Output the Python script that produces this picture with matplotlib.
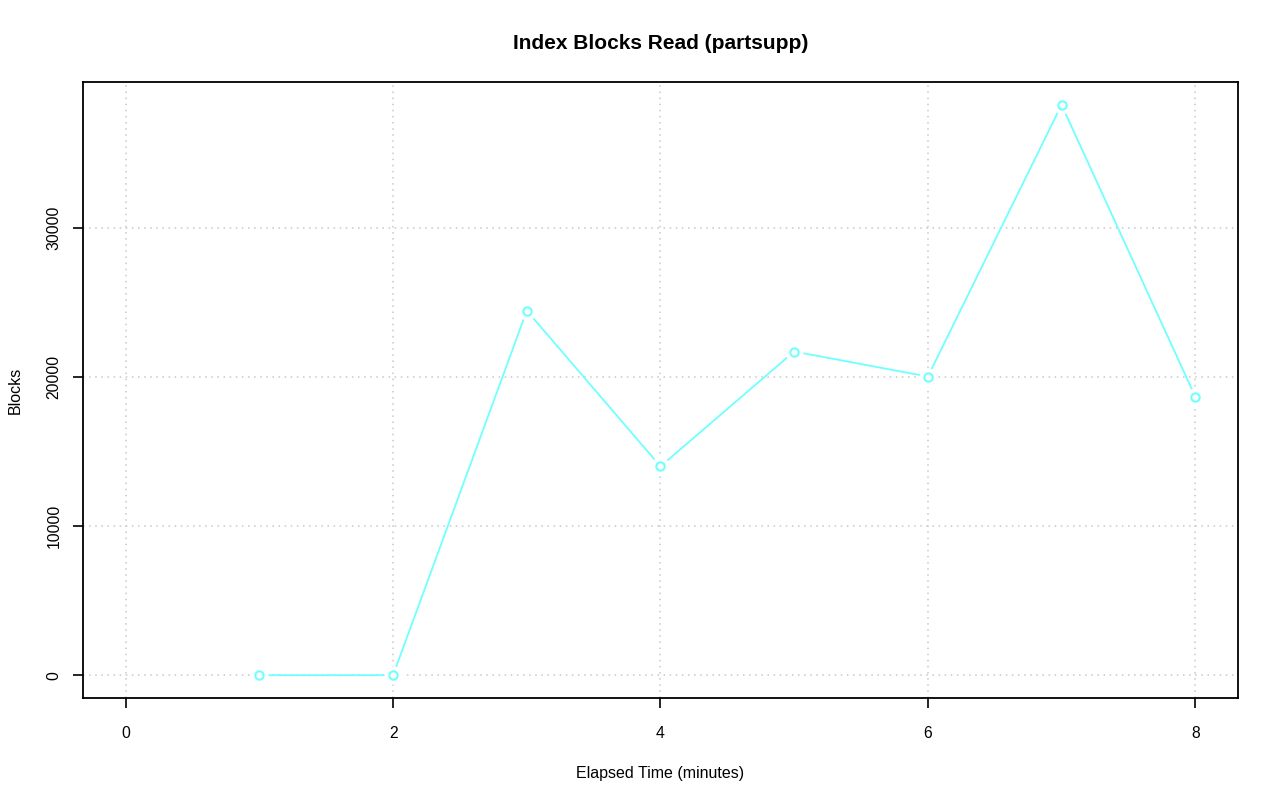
import matplotlib
matplotlib.use("Agg")
import matplotlib.pyplot as plt

plt.rcParams['font.family'] = ['Liberation Sans', 'DejaVu Sans']

minutes = [1, 2, 3, 4, 5, 6, 7, 8]
blocks = [0, 0, 24440, 14000, 21700, 20020, 38240, 18680]

x_ticks = [0, 2, 4, 6, 8]
y_ticks = [0, 10000, 20000, 30000]

fig = plt.figure(figsize=(12.8, 8.01), dpi=100)
ax = fig.add_axes([0.0648, 0.1286, 0.9024, 0.769])

line_col = '#70ffff'
ax.plot(minutes, blocks, color=line_col, lw=1.3, zorder=3)
# white halo so the line stops short of each point (like R type="b")
ax.plot(minutes, blocks, 'o', ms=13, mfc='white', mec='none', zorder=4)
ax.plot(minutes, blocks, 'o', ms=6, mfc='white', mec=line_col, mew=1.5, zorder=5)

ax.set_xlim(-0.32, 8.32)
ax.set_ylim(-1530, 39770)
ax.set_xticks(x_ticks)
ax.set_yticks(y_ticks)
ax.set_yticklabels([str(v) for v in y_ticks], rotation=90, va='center')
ax.grid(True, color='#c8c8c8', linestyle=(0, (1, 3)), lw=1.1)
ax.set_axisbelow(True)

for s in ax.spines.values():
    s.set_linewidth(1.3)
ax.tick_params(direction='out', length=7.5, width=1.2, labelsize=11.3)
ax.tick_params(axis='x', pad=12.5)
ax.tick_params(axis='y', pad=8)

ax.set_title('Index Blocks Read (partsupp)', fontsize=15, fontweight='bold', pad=24)
ax.set_xlabel('Elapsed Time (minutes)', fontsize=11.5, labelpad=18)
ax.set_ylabel('Blocks', fontsize=11.5, labelpad=17)

fig.savefig('out.png', dpi=100)
